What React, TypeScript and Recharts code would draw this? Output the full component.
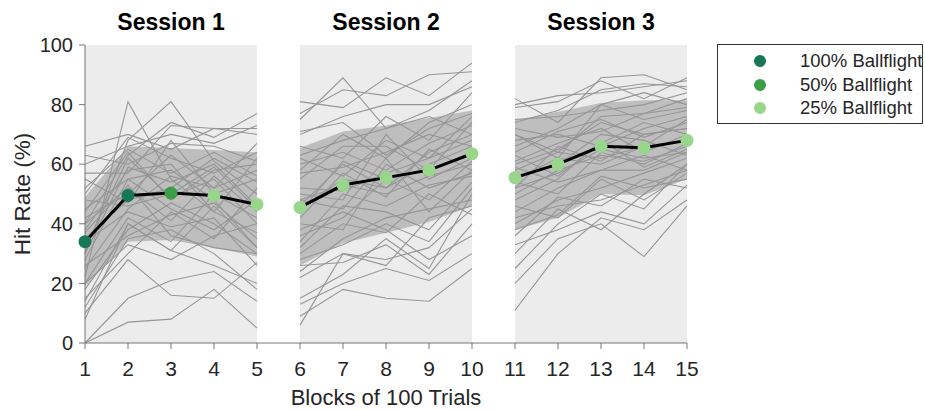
import {
  ComposedChart,
  Area,
  Line,
  XAxis,
  YAxis,
  ReferenceArea,
} from "recharts";

const blocks = [1, 2, 3, 4, 5, 6, 7, 8, 9, 10, 11, 12, 13, 14, 15];
const meanRate = [34, 49.5, 50.3, 49.5, 46.5, 45.5, 53, 55.5, 58, 63.5, 55.5, 60, 66, 65.5, 68];
const bandLow = [19, 34, 34.6, 32, 29, 26, 33.5, 37, 40.6, 46, 38, 42, 50, 49.6, 55];
const bandHigh = [49, 66, 65.4, 64.8, 64, 65.4, 71, 73, 75.5, 78, 74.8, 77.6, 80.5, 81.5, 81.5];
const ballflight = [100, 100, 50, 25, 25, 25, 25, 25, 25, 25, 25, 25, 25, 25, 25];
const sessions = [
  { name: "Session 1", from: 1, to: 5 },
  { name: "Session 2", from: 6, to: 10 },
  { name: "Session 3", from: 11, to: 15 },
];
const yTicks = [0, 20, 40, 60, 80, 100];

// one row per participant, blocks 1-15
const participants = [
  [0, 7, 8, 18, 5, 13, 20, 25, 21, 30, 11, 30, 42, 38, 48],
  [0, 15, 21, 24, 14, 9, 18, 15, 14, 25, 20, 35, 40, 29, 46],
  [10, 28, 16, 15, 27, 15, 23, 35, 25, 50, 25, 40, 50, 45, 60],
  [12, 35, 38, 30, 18, 28, 33, 40, 34, 52, 38, 43, 56, 52, 55],
  [8, 40, 31, 26, 20, 6, 30, 28, 32, 45, 30, 45, 38, 50, 60],
  [22, 81, 55, 44, 37, 46, 60, 52, 64, 70, 60, 65, 74, 70, 72],
  [30, 68, 81, 61, 50, 58, 70, 62, 74, 80, 70, 62, 80, 75, 78],
  [40, 63, 74, 69, 77, 75, 89, 72, 78, 88, 82, 74, 89, 90, 85],
  [66, 70, 65, 72, 70, 81, 79, 89, 83, 94, 79, 81, 88, 82, 89],
  [57, 57, 73, 72, 72, 77, 85, 83, 90, 91, 74, 78, 85, 87, 86],
  [63, 60, 67, 66, 61, 71, 74, 63, 72, 77, 72, 69, 71, 77, 82],
  [50, 69, 62, 57, 64, 66, 62, 76, 68, 84, 66, 72, 80, 84, 80],
  [45, 55, 58, 48, 32, 60, 64, 58, 67, 73, 63, 56, 67, 74, 70],
  [40, 52, 41, 56, 44, 50, 48, 70, 55, 62, 58, 64, 62, 66, 75],
  [35, 48, 52, 62, 54, 45, 55, 52, 60, 66, 56, 60, 70, 68, 63],
  [25, 45, 56, 52, 58, 42, 57, 49, 65, 58, 52, 66, 61, 70, 72],
  [20, 42, 34, 50, 42, 36, 42, 55, 48, 61, 48, 55, 68, 59, 65],
  [18, 38, 47, 40, 30, 32, 46, 44, 38, 54, 44, 52, 58, 63, 58],
  [28, 55, 45, 38, 48, 40, 38, 60, 52, 57, 54, 50, 64, 60, 67],
  [32, 62, 49, 55, 40, 52, 51, 57, 62, 68, 61, 67, 72, 64, 70],
  [15, 30, 44, 35, 52, 24, 35, 42, 45, 48, 40, 48, 52, 57, 62],
  [38, 58, 60, 44, 62, 55, 66, 66, 58, 74, 68, 70, 66, 72, 76],
  [48, 46, 50, 59, 45, 48, 53, 50, 56, 60, 50, 58, 63, 61, 66],
  [26, 36, 43, 47, 35, 30, 40, 37, 50, 43, 36, 49, 46, 55, 52],
  [52, 65, 57, 64, 56, 63, 68, 72, 76, 70, 75, 76, 78, 80, 84],
  [42, 50, 63, 52, 67, 57, 59, 64, 70, 66, 64, 71, 75, 69, 74],
  [34, 44, 39, 42, 26, 38, 44, 38, 28, 36, 46, 42, 55, 48, 57],
  [30, 59, 54, 60, 46, 44, 61, 55, 58, 64, 55, 62, 60, 66, 68],
  [20, 33, 28, 36, 40, 26, 27, 33, 23, 40, 33, 38, 44, 40, 53],
  [55, 47, 68, 50, 55, 62, 56, 68, 62, 76, 70, 64, 76, 77, 79],
  [44, 64, 48, 58, 60, 34, 50, 46, 53, 56, 59, 54, 58, 58, 64],
  [14, 40, 31, 46, 32, 22, 30, 26, 42, 46, 42, 46, 48, 53, 58],
  [60, 66, 70, 67, 73, 70, 76, 80, 80, 86, 80, 83, 84, 86, 88],
  [37, 53, 36, 32, 30, 48, 45, 62, 44, 58, 52, 57, 65, 62, 64],
];

const ballflightColors: Record<number, string> = {
  100: "#177757",
  50: "#3c9f48",
  25: "#98d68b",
};

const legendItems = [
  { label: "100% Ballflight", color: ballflightColors[100] },
  { label: "50% Ballflight", color: ballflightColors[50] },
  { label: "25% Ballflight", color: ballflightColors[25] },
];

const font = "'Liberation Sans', Arial, sans-serif";

// rows per block, with an empty row between sessions so lines break
const rows: Record<string, any>[] = [];
blocks.forEach((b, i) => {
  const row: Record<string, any> = {
    block: b,
    mean: meanRate[i],
    band: [bandLow[i], bandHigh[i]],
    color: ballflightColors[ballflight[i]],
  };
  participants.forEach((p, j) => {
    row[`p${j}`] = p[i];
  });
  rows.push(row);
  if (b === 5 || b === 10) {
    const gap: Record<string, any> = { block: b + 0.5, mean: null, band: null };
    participants.forEach((_, j) => {
      gap[`p${j}`] = null;
    });
    rows.push(gap);
  }
});

const MeanDot = (props: any) => {
  const { cx, cy, payload } = props;
  if (cx == null || cy == null || payload.mean == null) return null;
  return <circle cx={cx} cy={cy} r={6.5} fill={payload.color} stroke="none" />;
};

export default function App() {
  return (
    <div style={{ position: "absolute", left: 0, top: 0, width: 925, height: 410, fontFamily: font }}>
      <ComposedChart
        width={925}
        height={410}
        data={rows}
        margin={{ top: 45, right: 238, bottom: 0, left: 0 }}
      >
        {sessions.map((s) => (
          <ReferenceArea
            key={s.name}
            x1={s.from}
            x2={s.to}
            y1={0}
            y2={100}
            fill="#ececec"
            fillOpacity={1}
            stroke="none"
            label={{
              value: s.name,
              position: "top",
              offset: 15,
              fill: "#000",
              fontSize: 23,
              fontWeight: 700,
              fontFamily: font,
            }}
          />
        ))}
        <XAxis
          dataKey="block"
          type="number"
          domain={[1, 15]}
          ticks={blocks}
          height={67}
          stroke="#777"
          tickSize={6}
          tickMargin={12}
          tick={{ fill: "#262626", fontSize: 21, fontFamily: font }}
          label={{
            value: "Blocks of 100 Trials",
            position: "insideBottom",
            offset: 5,
            fill: "#262626",
            fontSize: 22,
            fontFamily: font,
          }}
        />
        <YAxis
          type="number"
          domain={[0, 100]}
          ticks={yTicks}
          width={85}
          stroke="#777"
          tickSize={6}
          tickMargin={6}
          tick={{ fill: "#262626", fontSize: 20, fontFamily: font }}
          label={{
            value: "Hit Rate (%)",
            angle: -90,
            position: "insideLeft",
            offset: 22,
            fill: "#262626",
            fontSize: 22.5,
            fontFamily: font,
            style: { textAnchor: "middle" },
          }}
        />
        <Area
          dataKey="band"
          stroke="none"
          fill="#bebebe"
          fillOpacity={1}
          dot={false}
          activeDot={false}
          isAnimationActive={false}
        />
        {participants.map((_, j) => (
          <Line
            key={j}
            dataKey={`p${j}`}
            stroke="#969696"
            strokeWidth={1.1}
            dot={false}
            activeDot={false}
            isAnimationActive={false}
          />
        ))}
        <Line
          dataKey="mean"
          stroke="#000"
          strokeWidth={3}
          dot={<MeanDot />}
          activeDot={false}
          isAnimationActive={false}
        />
      </ComposedChart>
      <div
        style={{
          position: "absolute",
          left: 717,
          top: 44,
          width: 206,
          height: 80,
          border: "1px solid #333",
          background: "#fff",
          boxSizing: "border-box",
        }}
      >
        {legendItems.map((item, i) => (
          <div
            key={item.label}
            style={{
              position: "absolute",
              left: 0,
              top: 5 + i * 23.5,
              height: 22,
              display: "flex",
              alignItems: "center",
              fontSize: 18.5,
              color: "#262626",
              whiteSpace: "nowrap",
            }}
          >
            <span
              style={{
                display: "inline-block",
                width: 12,
                height: 12,
                borderRadius: 6,
                background: item.color,
                marginLeft: 36,
                marginRight: 34,
              }}
            />
            {item.label}
          </div>
        ))}
      </div>
    </div>
  );
}
